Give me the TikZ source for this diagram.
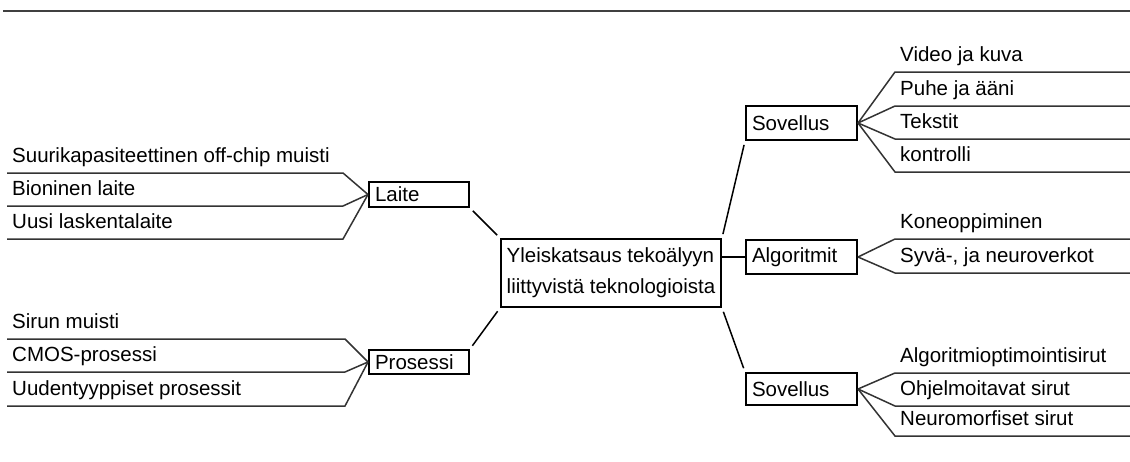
\documentclass[tikz,border=0pt]{standalone}
\usepackage{fontspec}
\setmainfont{Liberation Sans}
\begin{document}
\begin{tikzpicture}[x=1pt,y=-1pt,
  lbl/.style={anchor=base west, inner sep=0pt, font=\fontsize{20.5}{24}\selectfont},
  box/.style={draw, line width=2pt, anchor=north west, inner xsep=6pt, inner ysep=0pt,
    align=left, font=\fontsize{20.5}{31}\selectfont},
  ul/.style={line width=1.5pt, draw=black!80},
  con/.style={line width=1.5pt, shorten <=4pt, shorten >=4pt},
]
\useasboundingbox (0,0) rectangle (1130,461);
\coordinate (tl) at (3,11);
\coordinate (tr) at (1130,11);
\draw[line width=1.6pt, black!75] (tl) -- (tr);

% boxes
\node[box, text width=88pt, minimum height=25pt] (laite) at (368,181) {Laite};
\node[box, text width=88pt, minimum height=24pt] (pros) at (368,349) {Prosessi};
\node[box, inner xsep=5pt, minimum width=220pt, minimum height=68pt] (main) at (500,238)
  {Yleiskatsaus tekoälyyn\\liittyvistä teknologioista};
\node[box, text width=99pt, minimum height=34pt] (sov1) at (745,105) {Sovellus};
\node[box, text width=99pt, minimum height=34pt] (alg) at (745,239) {Algoritmit};
\node[box, text width=99pt, minimum height=32pt] (sov2) at (745,372) {Sovellus};

% main connectors
\draw[con] (laite.south east) -- (main.north west);
\draw[con] (pros.north east) -- (main.south west);
\draw[con] (sov1.south west) -- (main.north east);
\draw[con] (sov2.north west) -- (main.south east);
\draw[line width=1.5pt] (main.east |- alg.west) -- (alg.west);

% left group: Laite
\foreach \y/\t/\n in {173/Suurikapasiteettinen off-chip muisti/l1, 206/Bioninen laite/l2, 239/Uusi laskentalaite/l3}{
  \coordinate (\n a) at (7,\y);
  \coordinate (\n b) at (343,\y);
  \node[lbl] (\n t) at (12,\y-10.5) {\t};
  \draw[ul] (laite.west) -- (\n b) -- (\n a);
}
% left group: Prosessi
\foreach \y/\t/\n in {339/Sirun muisti/p1, 372/CMOS-prosessi/p2, 406/Uudentyyppiset prosessit/p3}{
  \coordinate (\n a) at (7,\y);
  \coordinate (\n b) at (345,\y);
  \node[lbl] (\n t) at (12,\y-10.5) {\t};
  \draw[ul] (pros.west) -- (\n b) -- (\n a);
}
% right group: Sovellus 1
\foreach \y/\t/\n in {72/Video ja kuva/s1, 106/Puhe ja ääni/s2, 139/Tekstit/s3, 172/kontrolli/s4}{
  \coordinate (\n a) at (895,\y);
  \coordinate (\n b) at (1130,\y);
  \node[lbl] (\n t) at (900,\y-10.5) {\t};
  \draw[ul] (sov1.east) -- (\n a) -- (\n b);
}
% right group: Algoritmit
\foreach \y/\t/\n in {239/Koneoppiminen/a1, 273/{Syvä-, ja neuroverkot}/a2}{
  \coordinate (\n a) at (895,\y);
  \coordinate (\n b) at (1130,\y);
  \node[lbl] (\n t) at (900,\y-10.5) {\t};
  \draw[ul] (alg.east) -- (\n a) -- (\n b);
}
% right group: Sovellus 2
\foreach \y/\t/\n in {373/Algoritmioptimointisirut/c1, 406/Ohjelmoitavat sirut/c2, 436/Neuromorfiset sirut/c3}{
  \coordinate (\n a) at (895,\y);
  \coordinate (\n b) at (1130,\y);
  \node[lbl] (\n t) at (900,\y-10.5) {\t};
  \draw[ul] (sov2.east) -- (\n a) -- (\n b);
}
\end{tikzpicture}
\end{document}
